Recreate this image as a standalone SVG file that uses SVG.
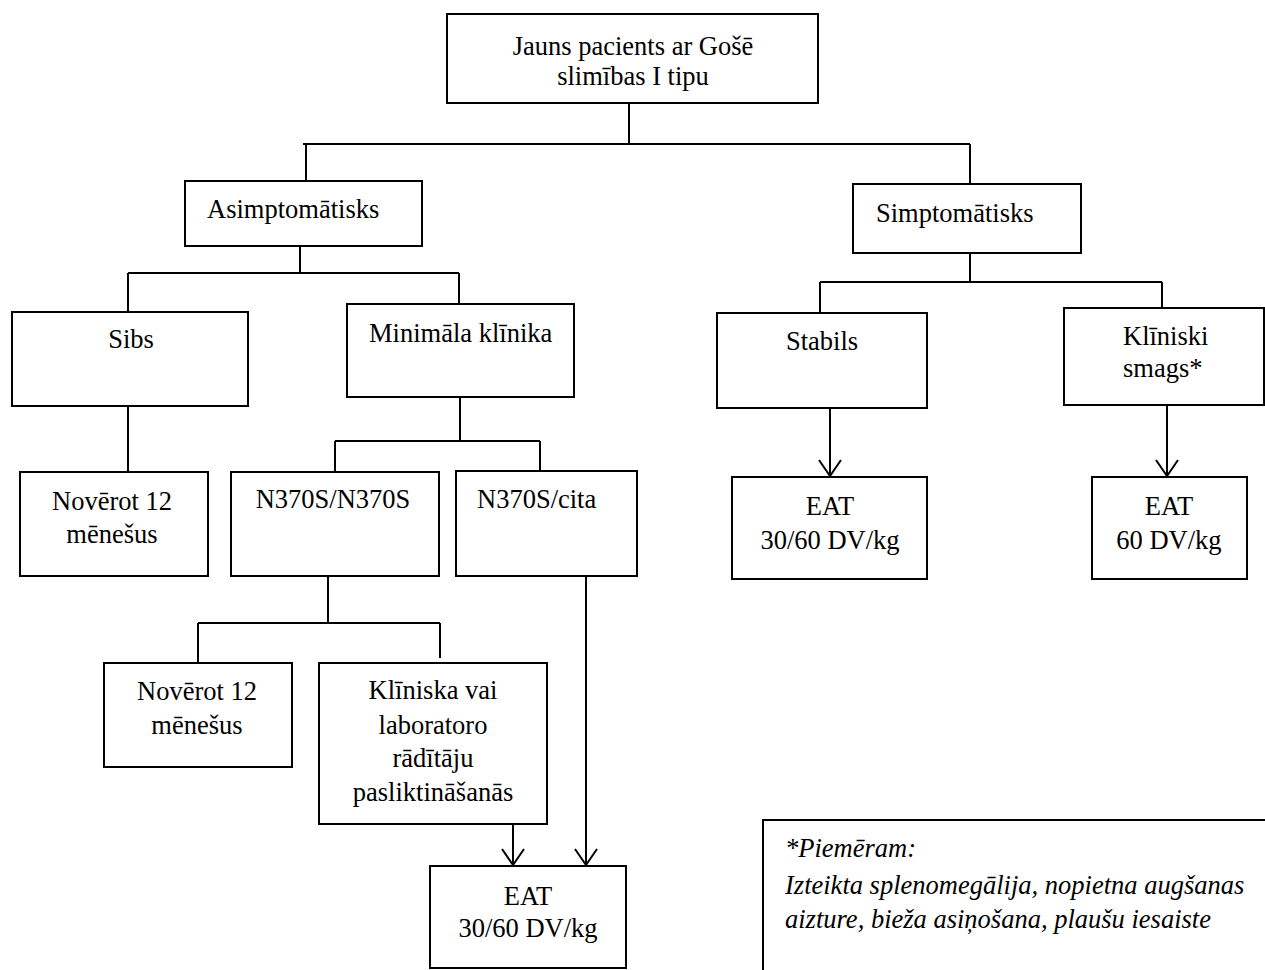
<svg xmlns="http://www.w3.org/2000/svg" width="1265" height="970" viewBox="0 0 1265 970">
<style>
  .box { fill: #fff; stroke: #000; stroke-width: 2; }
  .t { font-family: "Liberation Serif", "Times New Roman", serif; font-size: 26.5px; fill: #000; }
  .c { text-anchor: middle; }
  .it { font-style: italic; }
  .ln { fill: none; stroke: #000; stroke-width: 2; }
</style>
<defs>
  <marker id="arr" markerUnits="userSpaceOnUse" markerWidth="22" markerHeight="26" viewBox="-19 -13 22 26" refX="0" refY="0" orient="auto">
    <path d="M-16,-11 L0,0 L-16,11" fill="none" stroke="#000" stroke-width="2"/>
  </marker>
</defs>
<rect width="1265" height="970" fill="#fff"/>

<g id="connectors">
  <path class="ln" d="M629,103 V144 M303,144 H970 M306,144 V181 M970,144 V184"/>
  <path class="ln" d="M300,246 V273 M128,273 H459 M128,273 V312 M459,273 V304"/>
  <path class="ln" d="M970,253 V282 M820,282 H1162 M820,282 V313 M1162,282 V308"/>
  <path class="ln" d="M128,406 V472"/>
  <path class="ln" d="M460,397 V441 M335,441 H540 M335,441 V471 M540,441 V471"/>
  <path class="ln" d="M328,576 V623 M198,623 H440 M198,623 V663 M440,623 V658"/>
  <path class="ln" d="M830,408 V476" marker-end="url(#arr)"/>
  <path class="ln" d="M1167,405 V476" marker-end="url(#arr)"/>
  <path class="ln" d="M513,824 V865" marker-end="url(#arr)"/>
  <path class="ln" d="M586,576 V865" marker-end="url(#arr)"/>
</g>

<g id="n-root">
  <rect class="box" x="447" y="14" width="371" height="89"/>
  <text class="t c" x="633" y="55">Jauns pacients ar Gošē</text>
  <text class="t c" x="633" y="85">slimības I tipu</text>
</g>
<g id="n-asimpt">
  <rect class="box" x="185" y="181" width="237" height="65"/>
  <text class="t" x="207" y="218">Asimptomātisks</text>
</g>
<g id="n-simpt">
  <rect class="box" x="853" y="184" width="228" height="69"/>
  <text class="t" x="876" y="222">Simptomātisks</text>
</g>
<g id="n-sibs">
  <rect class="box" x="12" y="312" width="236" height="94"/>
  <text class="t c" x="131" y="348">Sibs</text>
</g>
<g id="n-minimala">
  <rect class="box" x="347" y="304" width="227" height="93"/>
  <text class="t" x="369" y="342">Minimāla klīnika</text>
</g>
<g id="n-stabils">
  <rect class="box" x="717" y="313" width="210" height="95"/>
  <text class="t" x="786" y="350">Stabils</text>
</g>
<g id="n-smags">
  <rect class="box" x="1064" y="308" width="200" height="97"/>
  <text class="t" x="1123" y="345">Klīniski</text>
  <text class="t" x="1123" y="377">smags*</text>
</g>
<g id="n-novert1">
  <rect class="box" x="20" y="472" width="188" height="104"/>
  <text class="t c" x="112" y="510">Novērot 12</text>
  <text class="t c" x="112" y="543">mēnešus</text>
</g>
<g id="n-n370s-n370s">
  <rect class="box" x="231" y="472" width="208" height="104"/>
  <text class="t c" x="333" y="508">N370S/N370S</text>
</g>
<g id="n-n370s-cita">
  <rect class="box" x="456" y="471" width="181" height="105"/>
  <text class="t" x="477" y="508">N370S/cita</text>
</g>
<g id="n-eat-stabils">
  <rect class="box" x="732" y="477" width="195" height="102"/>
  <text class="t c" x="830" y="515">EAT</text>
  <text class="t c" x="830" y="549">30/60 DV/kg</text>
</g>
<g id="n-eat-smags">
  <rect class="box" x="1092" y="477" width="155" height="102"/>
  <text class="t c" x="1169" y="515">EAT</text>
  <text class="t c" x="1169" y="549">60 DV/kg</text>
</g>
<g id="n-novert2">
  <rect class="box" x="104" y="663" width="188" height="104"/>
  <text class="t c" x="197" y="700">Novērot 12</text>
  <text class="t c" x="197" y="734">mēnešus</text>
</g>
<g id="n-pasliktinasanas">
  <rect class="box" x="319" y="663" width="228" height="161"/>
  <text class="t c" x="433" y="699">Klīniska vai</text>
  <text class="t c" x="433" y="734">laboratoro</text>
  <text class="t c" x="433" y="767">rādītāju</text>
  <text class="t c" x="433" y="801">pasliktināšanās</text>
</g>
<g id="n-eat-bottom">
  <rect class="box" x="430" y="866" width="196" height="102"/>
  <text class="t c" x="528" y="905">EAT</text>
  <text class="t c" x="528" y="937">30/60 DV/kg</text>
</g>
<g id="note">
  <rect class="box" x="763" y="820" width="520" height="170"/>
  <text class="t it" x="785" y="857">*Piemēram:</text>
  <text class="t it" x="785" y="894">Izteikta splenomegālija, nopietna augšanas</text>
  <text class="t it" x="785" y="928">aizture, bieža asiņošana, plaušu iesaiste</text>
</g>
</svg>
